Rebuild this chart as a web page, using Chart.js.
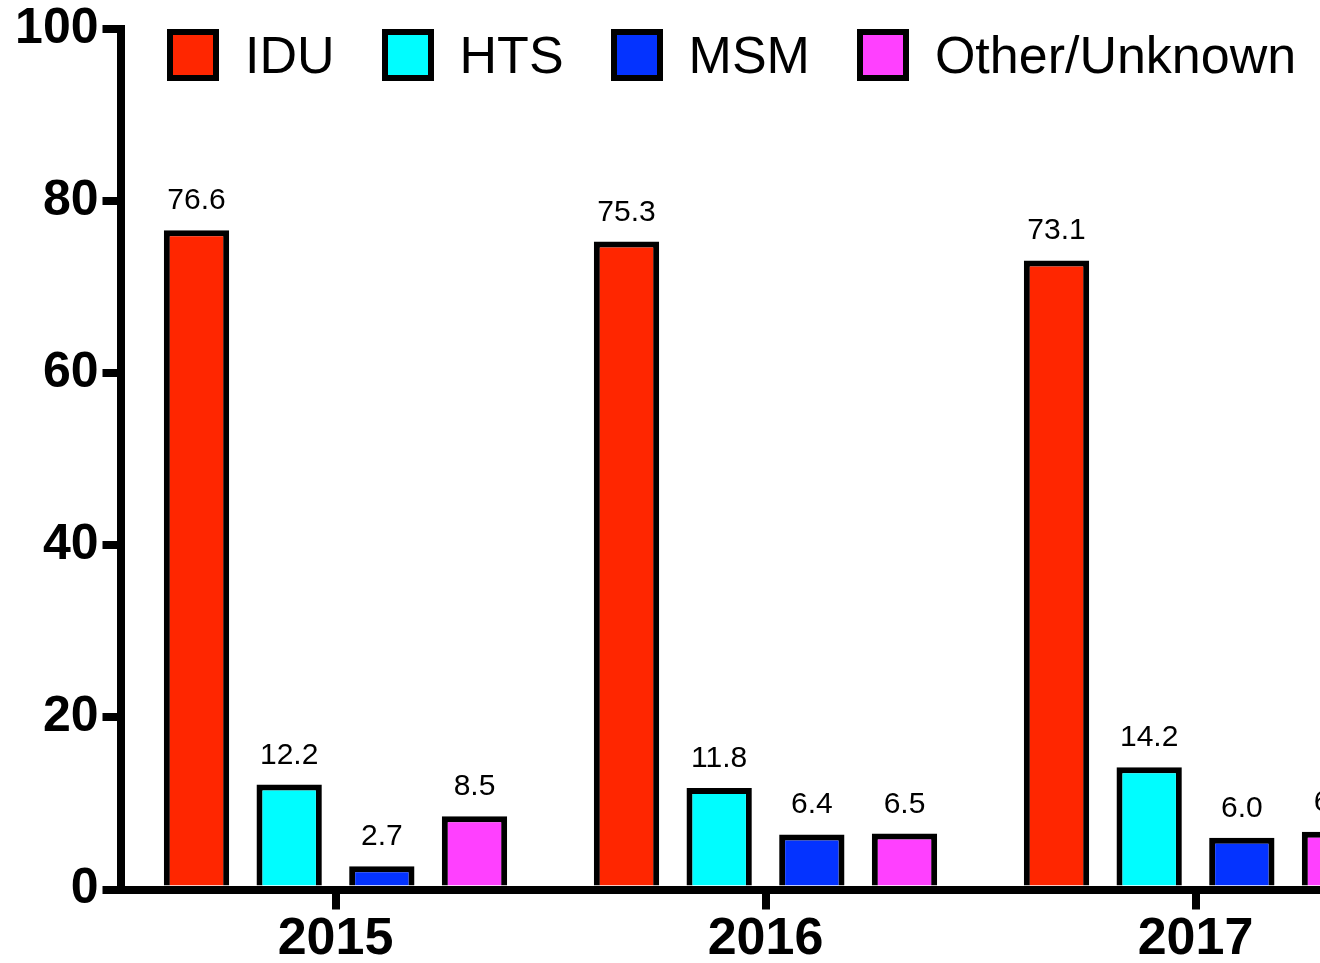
<!DOCTYPE html>
<html>
<head>
<meta charset="utf-8">
<script src="https://cdn.jsdelivr.net/npm/chart.js@4"></script>
<style>
  html, body { margin: 0; padding: 0; background: #fff; }
  #frame { position: relative; width: 1320px; height: 963px; overflow: hidden; }
  #wrap { position: absolute; left: 0; top: 0; width: 1430px; height: 963px; }
  #legend { position: absolute; left: 167px; top: 29px; display: flex; align-items: center;
            font-family: "Liberation Sans", Arial, sans-serif; font-size: 52px; color: #000; }
  .item { display: flex; align-items: center; margin-right: 47px; }
  .box { box-sizing: border-box; width: 52px; height: 52px; border: 6px solid #000; }
  .txt { margin-left: 26px; line-height: 52px; white-space: nowrap; }
</style>
</head>
<body>
<div id="frame">
  <div id="wrap"><canvas id="chart"></canvas></div>
  <div id="legend"></div>
</div>
<script>
// data
const years = ["2015", "2016", "2017"];
const idu = [76.6, 75.3, 73.1];
const hts = [12.2, 11.8, 14.2];
const msm = [2.7, 6.4, 6.0];
const other = [8.5, 6.5, 6.7];

const seriesNames = ["IDU", "HTS", "MSM", "Other/Unknown"];
const seriesColors = ["#FF2600", "#00FDFF", "#0433FF", "#FF40FF"];
const seriesData = [idu, hts, msm, other];

const yMax = 100;
const yStep = 20;

// legend as html
const legendEl = document.getElementById("legend");
seriesNames.forEach((name, i) => {
  const item = document.createElement("div");
  item.className = "item";
  const box = document.createElement("div");
  box.className = "box";
  box.style.background = seriesColors[i];
  const txt = document.createElement("span");
  txt.className = "txt";
  txt.textContent = name;
  item.appendChild(box);
  item.appendChild(txt);
  legendEl.appendChild(item);
});

// value labels above each bar
const valueLabels = {
  id: "valueLabels",
  afterDatasetsDraw(chart) {
    const ctx = chart.ctx;
    ctx.save();
    ctx.font = '30px "Liberation Sans", Arial, sans-serif';
    ctx.fillStyle = "#000";
    ctx.textAlign = "center";
    ctx.textBaseline = "alphabetic";
    chart.data.datasets.forEach((ds, i) => {
      const meta = chart.getDatasetMeta(i);
      meta.data.forEach((bar, j) => {
        ctx.fillText(ds.data[j].toFixed(1), bar.x, bar.y - 21);
      });
    });
    ctx.restore();
  }
};

const fontFam = '"Liberation Sans", Arial, sans-serif';

new Chart(document.getElementById("chart"), {
  type: "bar",
  data: {
    labels: years,
    datasets: seriesNames.map((name, i) => ({
      label: name,
      data: seriesData[i],
      backgroundColor: seriesColors[i],
      borderColor: "#000",
      borderWidth: 6,
      borderSkipped: "start",
      categoryPercentage: 0.862,
      barPercentage: 0.705
    }))
  },
  options: {
    responsive: true,
    maintainAspectRatio: false,
    animation: false,
    layout: { padding: { left: 0, right: 19.5, top: 0, bottom: 0 } },
    plugins: {
      legend: { display: false },
      tooltip: { enabled: false }
    },
    scales: {
      x: {
        offset: true,
        grid: { offset: false, drawOnChartArea: false, drawTicks: true, tickLength: 20, tickWidth: 8, tickColor: "#000", lineWidth: 8, color: "#000", z: 1 },
        border: { display: true, width: 8, color: "#000", z: 1 },
        ticks: { color: "#000", padding: 4, font: { family: fontFam, size: 52, weight: "bold", lineHeight: 1 } },
        afterFit(scale) { scale.height = 73.5; }
      },
      y: {
        min: 0,
        max: yMax,
        grid: { drawOnChartArea: false, drawTicks: true, tickLength: 18, tickWidth: 8, tickColor: "#000", lineWidth: 8, color: "#000", z: 1 },
        border: { display: true, width: 8, color: "#000", z: 1 },
        ticks: { stepSize: yStep, color: "#000", padding: 4, font: { family: fontFam, size: 50, weight: "bold", lineHeight: 1 } },
        afterFit(scale) { scale.width = 120.5; }
      }
    }
  },
  plugins: [valueLabels]
});
</script>
</body>
</html>
